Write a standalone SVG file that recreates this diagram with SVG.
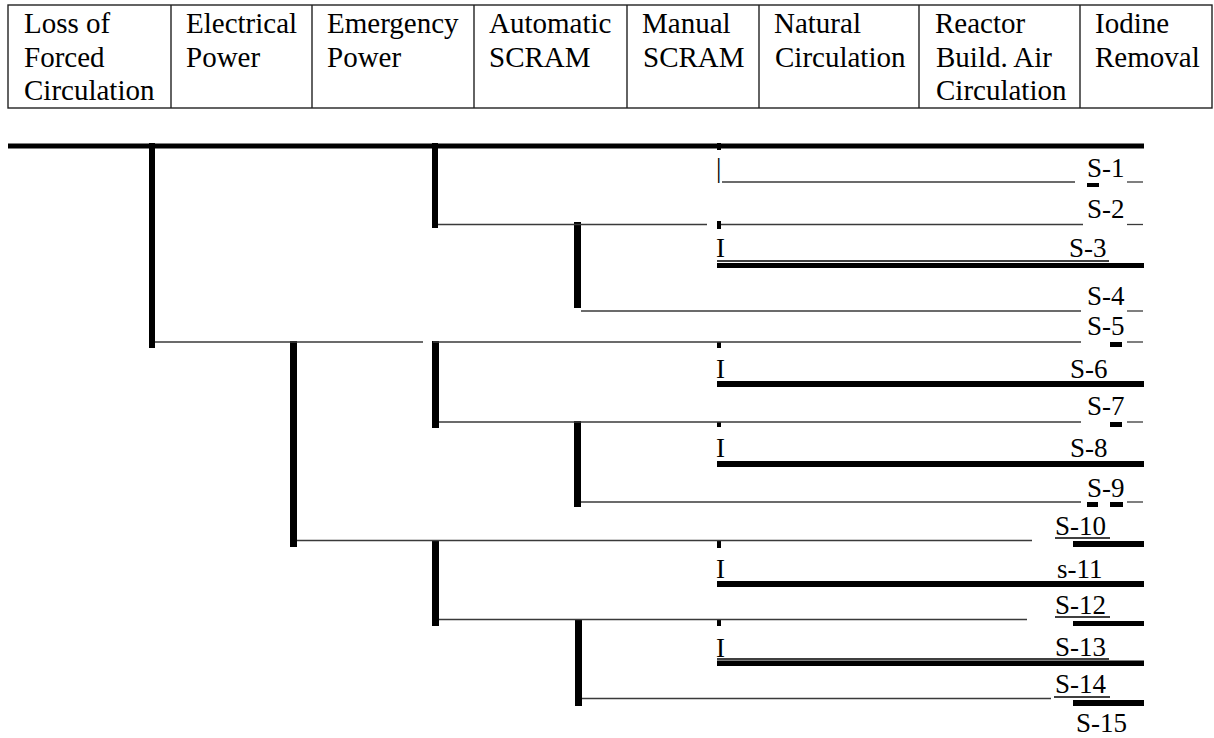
<svg xmlns="http://www.w3.org/2000/svg" width="1214" height="738" viewBox="0 0 1214 738">
<style>
.hdr{font-family:"Liberation Serif","Times New Roman",serif;font-size:29px;fill:#000}
.lbl{font-family:"Liberation Serif","Times New Roman",serif;font-size:27px;fill:#000}
.cell{fill:none;stroke:#222;stroke-width:1.4}
.thin{stroke:#3a3a3a;stroke-width:1.3;fill:none}
.ul{stroke:#000;stroke-width:1.3;fill:none}
.bar{fill:#000}
</style>
<rect x="0" y="0" width="1214" height="738" fill="#fff"/>
<g id="header">
  <rect class="cell" x="8" y="5" width="1204" height="103"/>
  <line class="cell" x1="171" y1="5" x2="171" y2="108"/>
  <line class="cell" x1="312" y1="5" x2="312" y2="108"/>
  <line class="cell" x1="474" y1="5" x2="474" y2="108"/>
  <line class="cell" x1="627" y1="5" x2="627" y2="108"/>
  <line class="cell" x1="759" y1="5" x2="759" y2="108"/>
  <line class="cell" x1="919" y1="5" x2="919" y2="108"/>
  <line class="cell" x1="1080" y1="5" x2="1080" y2="108"/>
  <g id="h1"><text class="hdr" x="24" y="33">Loss of</text><text class="hdr" x="24" y="67">Forced</text><text class="hdr" x="24" y="100">Circulation</text></g>
  <g id="h2"><text class="hdr" x="186" y="33">Electrical</text><text class="hdr" x="186" y="67">Power</text></g>
  <g id="h3"><text class="hdr" x="327" y="33">Emergency</text><text class="hdr" x="327" y="67">Power</text></g>
  <g id="h4"><text class="hdr" x="489" y="33">Automatic</text><text class="hdr" x="489" y="67">SCRAM</text></g>
  <g id="h5"><text class="hdr" x="642" y="33">Manual</text><text class="hdr" x="643" y="67">SCRAM</text></g>
  <g id="h6"><text class="hdr" x="774" y="33">Natural</text><text class="hdr" x="775" y="67">Circulation</text></g>
  <g id="h7"><text class="hdr" x="935" y="33">Reactor</text><text class="hdr" x="936" y="67">Build. Air</text><text class="hdr" x="936" y="100">Circulation</text></g>
  <g id="h8"><text class="hdr" x="1095" y="33">Iodine</text><text class="hdr" x="1095" y="67">Removal</text></g>
</g>
<g id="connectors">
  <!-- main success line -->
  <rect class="bar" x="8" y="143.5" width="1136" height="5"/>
  <!-- vertical branch bars -->
  <rect class="bar" x="149" y="143" width="6" height="205"/>
  <rect class="bar" x="432" y="143" width="6" height="85"/>
  <rect class="bar" x="574" y="222" width="7" height="86"/>
  <rect class="bar" x="290" y="341" width="7" height="206"/>
  <rect class="bar" x="432" y="341" width="7" height="87"/>
  <rect class="bar" x="574" y="421" width="7" height="86"/>
  <rect class="bar" x="432" y="540" width="7" height="86"/>
  <rect class="bar" x="575" y="619" width="7" height="87"/>
  <!-- natural circulation ticks -->
  <rect class="bar" x="717" y="143" width="4" height="7"/>
  <rect class="bar" x="717" y="221" width="4" height="8"/>
  <rect class="bar" x="717" y="342" width="4" height="6"/>
  <rect class="bar" x="717" y="422" width="4" height="5"/>
  <rect class="bar" x="717" y="540" width="4" height="8"/>
  <rect class="bar" x="717" y="619" width="4" height="7"/>
  <!-- thin branch lines -->
  <line class="thin" x1="722" y1="182" x2="1075" y2="182"/>
  <line class="thin" x1="438" y1="224.5" x2="707" y2="224.5"/>
  <line class="thin" x1="721" y1="224.5" x2="1083" y2="224.5"/>
  <line class="thin" x1="581" y1="311" x2="1081" y2="311"/>
  <line class="thin" x1="155" y1="342" x2="423" y2="342"/>
  <line class="thin" x1="433" y1="342" x2="1081" y2="342"/>
  <line class="thin" x1="439" y1="422" x2="1081" y2="422"/>
  <line class="thin" x1="581" y1="502" x2="1081" y2="502"/>
  <line class="thin" x1="297" y1="540.5" x2="1032" y2="540.5"/>
  <line class="thin" x1="439" y1="619.5" x2="1027" y2="619.5"/>
  <line class="thin" x1="582" y1="698.5" x2="1051" y2="698.5"/>
  <!-- short trailing lines -->
  <line class="thin" x1="1127" y1="182" x2="1143" y2="182"/>
  <line class="thin" x1="1127" y1="224.5" x2="1143" y2="224.5"/>
  <line class="thin" x1="1127" y1="311" x2="1143" y2="311"/>
  <line class="thin" x1="1127" y1="342" x2="1143" y2="342"/>
  <line class="thin" x1="1127" y1="422" x2="1143" y2="422"/>
  <line class="thin" x1="1127" y1="502" x2="1143" y2="502"/>
  <!-- small black marks -->
  <rect class="bar" x="1087" y="183" width="12" height="4"/>
  <rect class="bar" x="1110" y="342" width="12" height="5"/>
  <rect class="bar" x="1110" y="422" width="12" height="5"/>
  <rect class="bar" x="1087" y="502" width="11" height="5"/>
  <rect class="bar" x="1110" y="502" width="13" height="5"/>
  <!-- thick failure lines -->
  <line class="ul" x1="717" y1="261" x2="1109" y2="261"/>
  <rect class="bar" x="717" y="263" width="427" height="5"/>
  <rect class="bar" x="717" y="381" width="427" height="6"/>
  <rect class="bar" x="717" y="461" width="427" height="6"/>
  <line class="ul" x1="1055" y1="538" x2="1110" y2="538"/>
  <rect class="bar" x="1073" y="541" width="71" height="6"/>
  <rect class="bar" x="717" y="581" width="427" height="6"/>
  <line class="ul" x1="1055" y1="617" x2="1110" y2="617"/>
  <rect class="bar" x="1073" y="621" width="71" height="5"/>
  <line class="ul" x1="717" y1="659" x2="1109" y2="659"/>
  <rect class="bar" x="717" y="660.5" width="427" height="5.5"/>
  <line class="ul" x1="1054" y1="697" x2="1110" y2="697"/>
  <rect class="bar" x="1073" y="700" width="71" height="6"/>
</g>
<g id="nc-marks">
  <text class="lbl" x="716" y="177">|</text>
  <text class="lbl" x="716" y="257">I</text>
  <text class="lbl" x="716" y="378">I</text>
  <text class="lbl" x="716" y="457">I</text>
  <text class="lbl" x="716" y="578">I</text>
  <text class="lbl" x="716" y="657">I</text>
</g>
<g id="s1"><text class="lbl" x="1087" y="177">S-1</text></g>
<g id="s2"><text class="lbl" x="1087" y="218">S-2</text></g>
<g id="s3"><text class="lbl" x="1069" y="257">S-3</text></g>
<g id="s4"><text class="lbl" x="1087" y="305">S-4</text></g>
<g id="s5"><text class="lbl" x="1087" y="335">S-5</text></g>
<g id="s6"><text class="lbl" x="1070" y="378">S-6</text></g>
<g id="s7"><text class="lbl" x="1087" y="415">S-7</text></g>
<g id="s8"><text class="lbl" x="1070" y="457">S-8</text></g>
<g id="s9"><text class="lbl" x="1087" y="497">S-9</text></g>
<g id="s10"><text class="lbl" x="1055" y="535">S-10</text></g>
<g id="s11"><text class="lbl" x="1057" y="578">s-11</text></g>
<g id="s12"><text class="lbl" x="1055" y="614">S-12</text></g>
<g id="s13"><text class="lbl" x="1055" y="656">S-13</text></g>
<g id="s14"><text class="lbl" x="1055" y="693">S-14</text></g>
<g id="s15"><text class="lbl" x="1076" y="732">S-15</text></g>
</svg>
